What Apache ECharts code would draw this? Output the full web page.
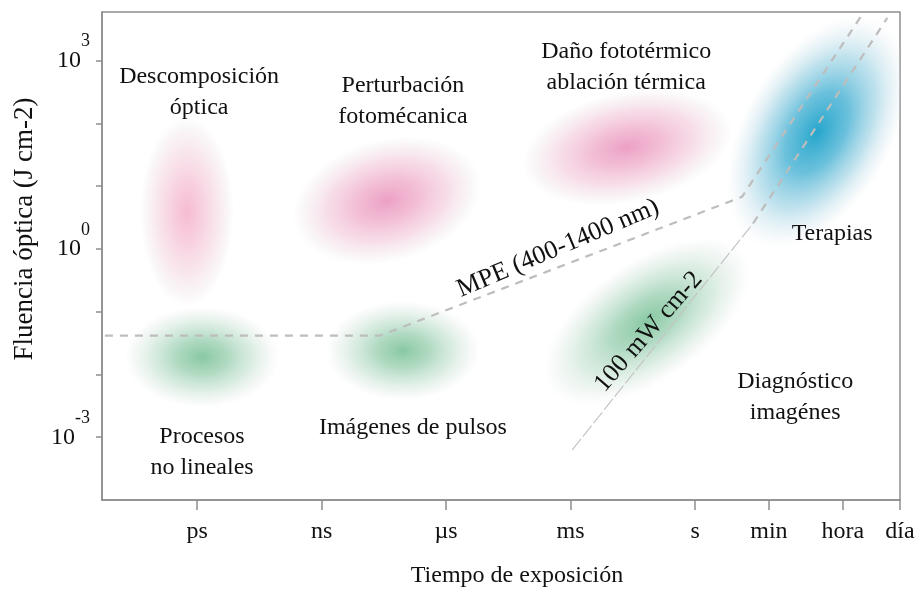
<!DOCTYPE html>
<html><head><meta charset="utf-8">
<script src="https://cdn.jsdelivr.net/npm/echarts@6/dist/echarts.min.js"></script>
<style>html,body{margin:0;padding:0;background:#fff}#c{width:919px;height:593px}</style>
</head><body><div id="c"></div>
<script>
// x: log10(exposure time, s); y: log10(optical fluence, J cm-2)
const timeTickLabels = ['ps', 'ns', 'µs', 'ms', 's', 'min', 'hora', 'día'];
const timeTickValues = [-12, -9, -6, -3, 0, 1.778, 3.556, 4.936];
const fluenceTickExps = [-3, -2, -1, 0, 1, 2, 3];
const fluenceLabelExps = [-3, 0, 3];

// regions (blobs): centre x, centre y, half-spread x (decades), half-spread y (decades), tilt (deg), colour family
const regionX = [-12.24, -7.42, -1.64, 2.94, -11.88, -7.04, -1.16];
const regionY = [0.59, 0.77, 1.62, 1.86, -1.72, -1.62, -1.15];
const regionSpreadX = [1.12, 2.30, 2.55, 3.05, 1.85, 1.85, 2.85];
const regionSpreadY = [1.50, 0.97, 0.88, 1.18, 0.80, 0.79, 0.94];
const regionTilt = [0, 15, 12, 60, 0, 0, 35];
const regionFamily = ['palePink', 'pink', 'pink', 'blue', 'green', 'green', 'green'];

// MPE (400-1400 nm) curve
const mpeX = [-14.22, -7.59, 1.13, 4.02];
const mpeY = [-1.38, -1.38, 0.83, 3.73];
// 100 mW cm-2 line (thin lower part, dashed upper part)
const irrLowX = [-2.96, 1.40];
const irrLowY = [-3.20, 0.41];
const irrHighX = [1.40, 4.63];
const irrHighY = [0.41, 3.68];

// annotations
const annText = ['Descomposición\nóptica', 'Perturbación\nfotomécanica', 'Daño fototérmico\nablación térmica',
  'Terapias', 'Diagnóstico\nimagénes', 'Procesos\nno lineales', 'Imágenes de pulsos',
  'MPE (400-1400 nm)', '100 mW cm-2'];
const annX = [-11.95, -7.04, -1.66, 3.30, 2.41, -11.88, -6.80, -3.30, -1.12];
const annY = [2.50, 2.35, 2.89, 0.25, -2.37, -3.24, -2.85, 0.01, -1.32];
const annRot = [0, 0, 0, 0, 0, 0, 0, 23, 49];

const FONT = "'Liberation Serif', 'Times New Roman', serif";
const AXIS_COLOR = '#8e8e8e';

const palettes = {
  palePink: ['rgba(245,180,205,0.9)', 'rgba(245,192,212,0.72)', 'rgba(243,208,221,0.52)', 'rgba(238,226,231,0.32)', 'rgba(240,236,238,0.04)'],
  pink: ['rgba(236,160,196,1)', 'rgba(240,178,206,0.82)', 'rgba(242,198,217,0.58)', 'rgba(238,224,230,0.33)', 'rgba(240,236,238,0.04)'],
  blue: ['rgba(38,166,204,1)', 'rgba(86,184,215,0.88)', 'rgba(150,207,226,0.62)', 'rgba(214,232,239,0.36)', 'rgba(236,240,242,0.04)'],
  green: ['rgba(136,200,163,1)', 'rgba(160,210,181,0.82)', 'rgba(192,224,205,0.58)', 'rgba(224,235,229,0.34)', 'rgba(236,240,238,0.04)']
};

const blobData = regionX.map((x, i) => [x, regionY[i], regionSpreadX[i], regionSpreadY[i], regionTilt[i], i]);
const annData = annX.map((x, i) => [x, annY[i], i]);

const chart = echarts.init(document.getElementById('c'), null, {renderer: 'canvas'});
chart.setOption({
  animation: false,
  backgroundColor: '#fff',
  grid: {left: 102, right: 19, top: 12, bottom: 90, show: true, borderColor: AXIS_COLOR, borderWidth: 1.5, containLabel: false},
  xAxis: {
    type: 'value', min: -14.29, max: 4.936,
    axisLine: {show: true, onZero: false, lineStyle: {color: AXIS_COLOR, width: 1.5}},
    axisTick: {show: true, customValues: timeTickValues, length: 10, lineStyle: {color: AXIS_COLOR, width: 1.5}},
    axisLabel: {
      customValues: timeTickValues, margin: 20, color: '#111', fontFamily: FONT, fontSize: 24,
      formatter: v => {
        let best = 0;
        timeTickValues.forEach((t, i) => { if (Math.abs(t - v) < Math.abs(timeTickValues[best] - v)) best = i; });
        return timeTickLabels[best];
      }
    },
    splitLine: {show: false},
    name: 'Tiempo de exposición', nameLocation: 'middle', nameGap: 64,
    nameTextStyle: {color: '#111', fontFamily: FONT, fontSize: 24, padding: [0, 0, 0, 32]}
  },
  yAxis: {
    type: 'value', min: -4, max: 3.775,
    axisLine: {show: true, onZero: false, lineStyle: {color: AXIS_COLOR, width: 1.5}},
    axisTick: {show: true, customValues: fluenceTickExps, length: 6, lineStyle: {color: AXIS_COLOR, width: 1.5}},
    axisLabel: {
      customValues: fluenceLabelExps, margin: 12, padding: [0, 0, 16, 0],
      formatter: v => '{a|10}{b|' + Math.round(v) + '}',
      rich: {
        a: {fontFamily: FONT, fontSize: 24, color: '#111', lineHeight: 40, verticalAlign: 'bottom'},
        b: {fontFamily: FONT, fontSize: 18, color: '#111', lineHeight: 14, verticalAlign: 'top'}
      }
    },
    splitLine: {show: false},
    name: 'Fluencia óptica (J cm-2)', nameLocation: 'middle', nameGap: 64,
    nameTextStyle: {color: '#111', fontFamily: FONT, fontSize: 27, padding: [0, 0, 0, 54]}
  },
  series: [
    {
      type: 'custom', name: 'regiones', data: blobData, clip: true, z: 1,
      renderItem: (params, api) => {
        const c = api.coord([api.value(0), api.value(1)]);
        const s = api.size([api.value(2), api.value(3)]);
        const idx = api.value(5);
        const p = palettes[regionFamily[idx]];
        return {
          type: 'circle', x: c[0], y: c[1],
          rotation: api.value(4) * Math.PI / 180,
          scaleX: s[0] / s[1],
          shape: {cx: 0, cy: 0, r: s[1]},
          style: {fill: {type: 'radial', x: 0.5, y: 0.5, r: 0.5, colorStops: [
            {offset: 0, color: p[0]}, {offset: 0.35, color: p[1]}, {offset: 0.65, color: p[2]},
            {offset: 0.88, color: p[3]}, {offset: 1, color: p[4]}
          ]}}
        };
      }
    },
    {
      type: 'line', name: 'MPE', data: mpeX.map((x, i) => [x, mpeY[i]]), symbol: 'none', z: 3,
      lineStyle: {color: '#bdbdbd', width: 2.2, type: [8, 7]}
    },
    {
      type: 'line', name: '100 mW low', data: irrLowX.map((x, i) => [x, irrLowY[i]]), symbol: 'none', z: 3,
      lineStyle: {color: '#c4c4c4', width: 1.2, type: [14, 3]}
    },
    {
      type: 'line', name: '100 mW high', data: irrHighX.map((x, i) => [x, irrHighY[i]]), symbol: 'none', z: 3,
      lineStyle: {color: '#bdbdbd', width: 2.2, type: [8, 7]}
    },
    {
      type: 'custom', name: 'anotaciones', data: annData, clip: false, z: 5,
      renderItem: (params, api) => {
        const c = api.coord([api.value(0), api.value(1)]);
        const i = api.value(2);
        const rotated = annRot[i] !== 0;
        return {
          type: 'text', x: c[0], y: c[1],
          rotation: annRot[i] * Math.PI / 180,
          style: {
            text: annText[i], fill: '#111', fontFamily: FONT, fontSize: rotated ? 26 : 24,
            lineHeight: 31, align: 'center', verticalAlign: 'middle'
          }
        };
      }
    }
  ]
});
</script></body></html>
